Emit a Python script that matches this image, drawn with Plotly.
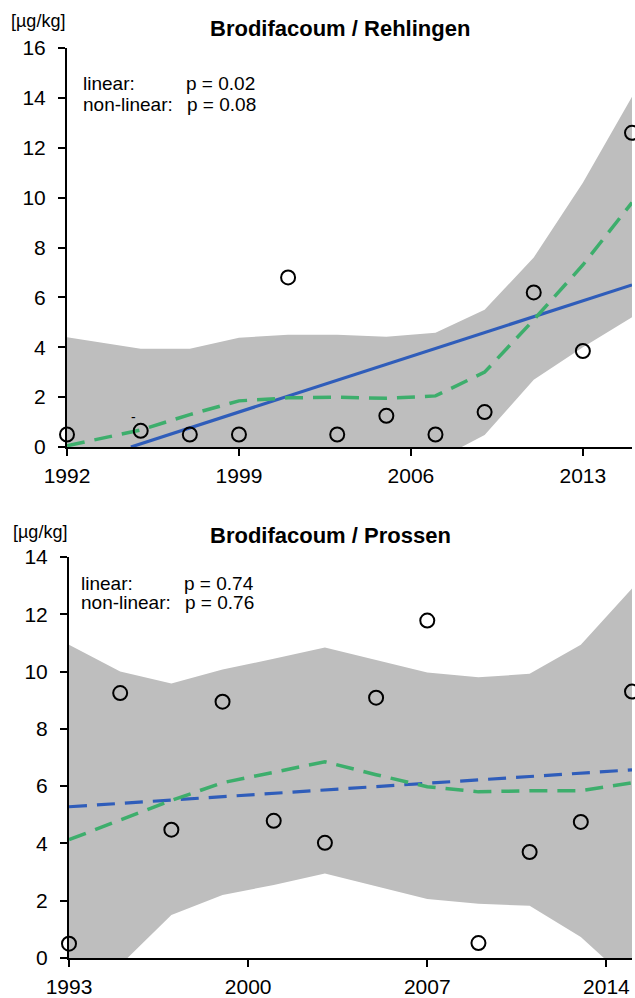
import plotly.graph_objects as go

# ---------------- data ----------------
# Top panel: Brodifacoum / Rehlingen
years_top = [1992, 1995, 1997, 1999, 2001, 2003, 2005, 2007, 2009, 2011, 2013, 2015]
conc_top = [0.5, 0.65, 0.5, 0.5, 6.8, 0.5, 1.25, 0.5, 1.4, 6.2, 3.85, 12.6]
gam_top = [0.05, 0.68, 1.3, 1.85, 1.97, 2.0, 1.95, 2.05, 3.0, 5.1, 7.3, 9.8]
ci_up_top = [4.4, 3.94, 3.94, 4.38, 4.5, 4.5, 4.42, 4.58, 5.5, 7.6, 10.6, 14.05]
ci_lo_top = [-3.0, -2.6, -2.2, -1.9, -1.6, -1.4, -1.2, -0.55, 0.48, 2.7, 4.0, 5.2]
lin_years_top = [1994.6, 2015]
lin_top = [0.0, 6.5]

# Bottom panel: Brodifacoum / Prossen
years_bot = [1993, 1995, 1997, 1999, 2001, 2003, 2005, 2007, 2009, 2011, 2013, 2015]
conc_bot = [0.5, 9.25, 4.48, 8.95, 4.79, 4.02, 9.09, 11.78, 0.52, 3.7, 4.75, 9.3]
gam_bot = [4.13, 4.8, 5.5, 6.12, 6.5, 6.85, 6.4, 5.98, 5.8, 5.84, 5.84, 6.12]
ci_up_bot = [10.94, 10.0, 9.58, 10.07, 10.45, 10.84, 10.4, 9.97, 9.8, 9.92, 10.94, 12.9]
ci_lo_bot = [-2.0, -0.26, 1.5, 2.2, 2.55, 2.95, 2.5, 2.06, 1.89, 1.82, 0.73, -0.89]
lin_years_bot = [1993, 2015]
lin_bot = [5.28, 6.57]

ticks_x_top = [1992, 1999, 2006, 2013]
ticks_x_bot = [1993, 2000, 2007, 2014]
ticks_y_top = [0, 2, 4, 6, 8, 10, 12, 14, 16]
ticks_y_bot = [0, 2, 4, 6, 8, 10, 12, 14]

title_top = "Brodifacoum / Rehlingen"
title_bot = "Brodifacoum / Prossen"
unit = "[µg/kg]"
stats_top = [("linear:", "p = 0.02"), ("non-linear:", "p = 0.08")]
stats_bot = [("linear:", "p = 0.74"), ("non-linear:", "p = 0.76")]

# ---------------- style ----------------
FONT = "Liberation Sans, Arial, sans-serif"
GRAY = "#BEBEBE"
BLUE = "#2F5DBA"
GREEN = "#3DAE6C"
DASH = "18px,10px"

W_FIG, H_FIG = 635, 998
ML, MR, MT, MB = 67, 3, 48, 40
PW = W_FIG - ML - MR
PH = H_FIG - MT - MB


def px(xp):
    return (xp - ML) / PW


def py(yp):
    return (H_FIG - MB - yp) / PH


fig = go.Figure()


def add_panel(xa, ya, years, conc, gam, up, lo, lyears, lin, lin_dash):
    fig.add_trace(go.Scatter(x=years, y=lo, mode="lines", line=dict(width=0, color=GRAY),
                             xaxis=xa, yaxis=ya, showlegend=False, hoverinfo="skip"))
    fig.add_trace(go.Scatter(x=years, y=up, mode="lines", line=dict(width=0, color=GRAY),
                             fill="tonexty", fillcolor=GRAY,
                             xaxis=xa, yaxis=ya, showlegend=False, hoverinfo="skip"))
    fig.add_trace(go.Scatter(x=lyears, y=lin, mode="lines",
                             line=dict(color=BLUE, width=3.2, dash=lin_dash),
                             xaxis=xa, yaxis=ya, showlegend=False))
    fig.add_trace(go.Scatter(x=years, y=gam, mode="lines",
                             line=dict(color=GREEN, width=3.5, dash=DASH),
                             xaxis=xa, yaxis=ya, showlegend=False))
    fig.add_trace(go.Scatter(x=years, y=conc, mode="markers",
                             marker=dict(symbol="circle-open", size=14, color="black",
                                         line=dict(width=2, color="black")),
                             cliponaxis=False,
                             xaxis=xa, yaxis=ya, showlegend=False))


add_panel("x", "y", years_top, conc_top, gam_top, ci_up_top, ci_lo_top,
          lin_years_top, lin_top, "solid")
add_panel("x2", "y2", years_bot, conc_bot, gam_bot, ci_up_bot, ci_lo_bot,
          lin_years_bot, lin_bot, DASH)

axis_common = dict(showline=True, linecolor="black", linewidth=2, ticks="outside",
                   ticklen=7, tickwidth=2, tickcolor="black", showgrid=False,
                   zeroline=False, tickfont=dict(family=FONT, size=21, color="black"),
                   fixedrange=True, automargin=False)

top_dom = [py(447), 1.0]
bot_dom = [0.0, py(557)]

fig.update_layout(
    width=W_FIG, height=H_FIG,
    margin=dict(l=ML, r=MR, t=MT, b=MB, autoexpand=False),
    paper_bgcolor="white", plot_bgcolor="white",
    font=dict(family=FONT, color="black"),
    xaxis=dict(domain=[0, 1], range=[1992, 2015], tickvals=ticks_x_top,
               anchor="y", ticklabelstandoff=2, **axis_common),
    yaxis=dict(domain=top_dom, range=[0, 16], tickvals=ticks_y_top,
               anchor="x", ticklabelstandoff=8, **axis_common),
    xaxis2=dict(domain=[px(69), 1], range=[1993, 2015], tickvals=ticks_x_bot,
                anchor="y2", ticklabelstandoff=2, **axis_common),
    yaxis2=dict(domain=bot_dom, range=[0, 14], tickvals=ticks_y_bot,
                anchor="x2", ticklabelstandoff=8, **axis_common),
)

ann = []


def text(xp, yp, s, size, bold=False, anchor="left"):
    ann.append(dict(x=px(xp), y=py(yp), xref="paper", yref="paper", text=("<b>%s</b>" % s) if bold else s,
                    showarrow=False, xanchor=anchor, yanchor="middle",
                    font=dict(family=FONT, size=size, color="black")))


# titles and units
text(208, 28, title_top, 22, bold=True)
text(208, 535, title_bot, 22, bold=True)
text(9, 21, unit, 18)
text(11, 532, unit, 18)

# stats
text(81, 84, stats_top[0][0], 19)
text(184, 84, stats_top[0][1], 19)
text(81, 104, stats_top[1][0], 19)
text(185, 104, stats_top[1][1], 19)
text(79, 583, stats_bot[0][0], 19)
text(182, 583, stats_bot[0][1], 19)
text(79, 602, stats_bot[1][0], 19)
text(183, 602, stats_bot[1][1], 19)

# small dash mark above the 1995 point (top panel)
ann.append(dict(x=1994.7, y=1.2, xref="x", yref="y", text="-", showarrow=False,
                font=dict(family=FONT, size=14, color="black")))

fig.update_layout(annotations=ann)

fig.write_html(
    "out.html",
    config={"displayModeBar": False},
    post_script="document.body.style.margin='0';document.body.style.overflow='hidden';",
)
